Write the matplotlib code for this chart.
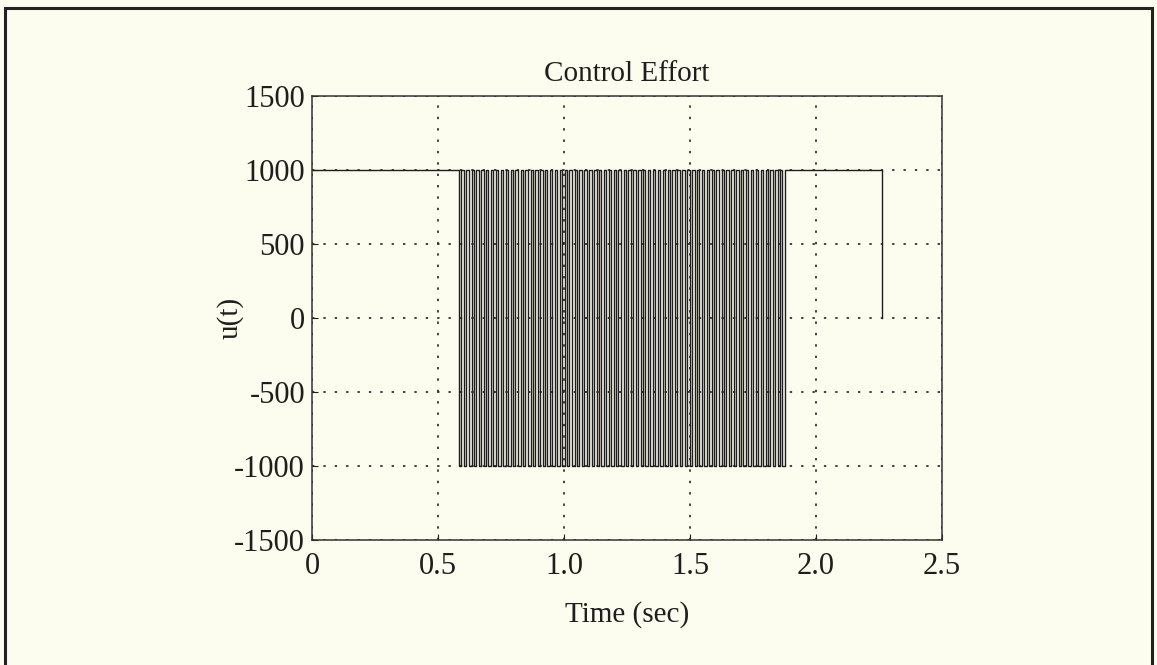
import numpy as np
import matplotlib.pyplot as plt
from matplotlib.patches import Rectangle

# Switching instants of the bang-bang control (s)
# first entry: switch down to -1000, then alternating up/down
switch_times = [
    0.583, 0.593, 0.603, 0.612, 0.622, 0.633, 0.642, 0.651, 0.661, 0.671,
    0.681, 0.690, 0.700, 0.711, 0.720, 0.729, 0.739, 0.750, 0.759, 0.768,
    0.778, 0.789, 0.798, 0.807, 0.817, 0.828, 0.837, 0.846, 0.856, 0.867,
    0.876, 0.885, 0.895, 0.906, 0.915, 0.924, 0.934, 0.944, 0.953, 0.963,
    0.973, 0.983, 0.992, 1.002, 1.012, 1.021, 1.031, 1.042, 1.051, 1.060,
    1.070, 1.081, 1.090, 1.099, 1.109, 1.120, 1.129, 1.138, 1.148, 1.158,
    1.167, 1.177, 1.187, 1.197, 1.206, 1.216, 1.226, 1.236, 1.245, 1.255,
    1.265, 1.275, 1.284, 1.294, 1.304, 1.313, 1.323, 1.334, 1.343, 1.352,
    1.362, 1.373, 1.382, 1.391, 1.401, 1.411, 1.420, 1.430, 1.440, 1.450,
    1.459, 1.469, 1.479, 1.489, 1.498, 1.508, 1.518, 1.527, 1.537, 1.548,
    1.557, 1.566, 1.576, 1.587, 1.596, 1.605, 1.615, 1.625, 1.634, 1.644,
    1.654, 1.664, 1.673, 1.683, 1.693, 1.702, 1.712, 1.723, 1.732, 1.741,
    1.751, 1.761, 1.770, 1.780, 1.790, 1.800, 1.809, 1.819, 1.829, 1.838,
    1.848, 1.857, 1.866, 1.878,
]
u_high = 1000
u_low = -1000
t_start = 0.0
t_end = 2.26
u_end = 0

xticks = [0, 0.5, 1.0, 1.5, 2.0, 2.5]
xtick_labels = ['0', '0.5', '1.0', '1.5', '2.0', '2.5']
yticks = [-1500, -1000, -500, 0, 500, 1000, 1500]
ytick_labels = ['-1500', '-1000', '-500', '0', '500', '1000', '1500']

# build step signal
t = [t_start] + switch_times + [t_end]
u = [u_high]
for i in range(len(switch_times)):
    u.append(u_low if i % 2 == 0 else u_high)
u.append(u_end)

bg = '#fcfcef'
ink = '#1e1e1e'
plt.rcParams['font.family'] = ['Liberation Serif', 'DejaVu Serif']
plt.rcParams['axes.unicode_minus'] = False

fig = plt.figure(figsize=(11.57, 6.65), dpi=100, facecolor=bg)
ax = fig.add_axes([0.2697, 0.188, 0.5445, 0.6677], facecolor=bg)

ax.plot(t, u, drawstyle='steps-post', color=ink, linewidth=1.0)

ax.set_xlim(0, 2.5)
ax.set_ylim(-1500, 1500)
ax.set_xticks(xticks)
ax.set_xticklabels(xtick_labels)
ax.set_yticks(yticks)
ax.set_yticklabels(ytick_labels)
ax.tick_params(direction='in', length=4, labelsize=22, colors=ink)
ax.tick_params(axis='x', pad=9)
ax.tick_params(axis='y', pad=5)
ax.grid(True, color='#333333', linestyle=(0, (1.3, 5)), linewidth=1.3)
for s in ax.spines.values():
    s.set_linewidth(1.1)
    s.set_color('#333333')

ax.set_title('Control Effort', fontsize=21, pad=11, color=ink)
ax.set_xlabel('Time (sec)', fontsize=21, labelpad=14, color=ink)
ax.set_ylabel('u(t)', fontsize=21, color=ink)
ax.yaxis.set_label_coords(-0.108, 0.5)

# outer frame of the scanned page
fig.patches.append(Rectangle((5 / 1157, -0.05), 1147 / 1157, 1.05 - 8 / 665,
                             transform=fig.transFigure, fill=False,
                             edgecolor='#222222', linewidth=2.2))

fig.savefig('out.png', dpi=100, facecolor=bg)
